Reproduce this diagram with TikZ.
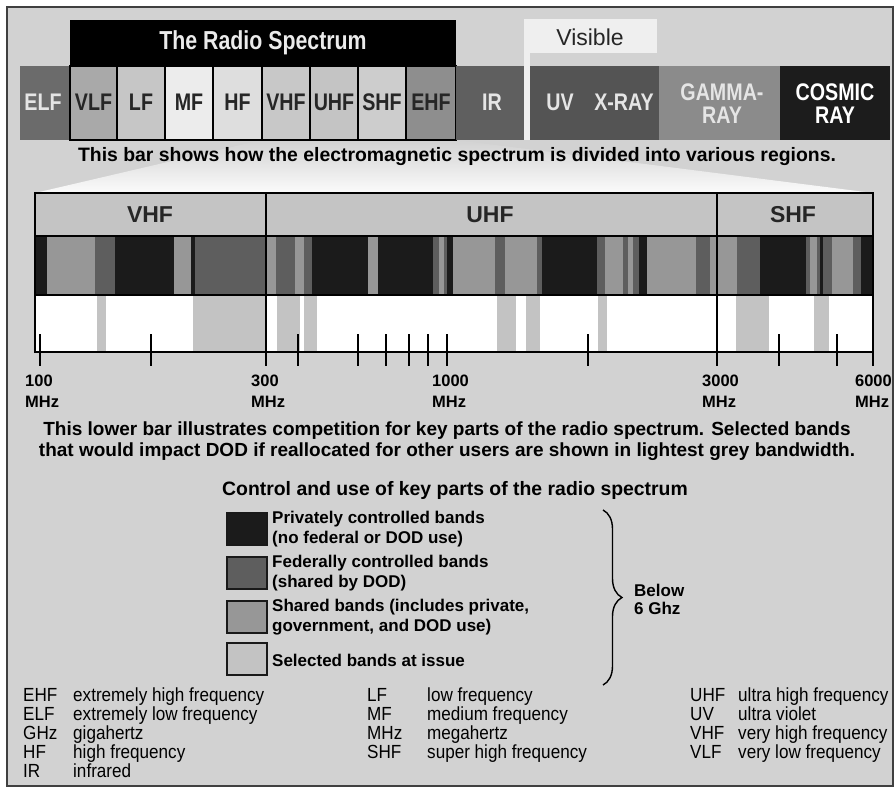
\documentclass[tikz,border=0pt]{standalone}
\usepackage{fontspec}
\setmainfont{Liberation Sans}
\newfontfamily\condfont[FakeStretch=0.82]{Liberation Sans}
\newfontfamily\narrowfont[FakeStretch=0.9]{Liberation Sans}
\usepackage{tikz}
\usetikzlibrary{decorations.pathreplacing}
\definecolor{panelGray}{HTML}{D2D2D2}
\definecolor{privateBlack}{HTML}{1B1B1B}
\definecolor{federalGray}{HTML}{5E5E5E}
\definecolor{sharedGray}{HTML}{979797}
\definecolor{issueGray}{HTML}{C3C3C3}
\definecolor{headerGray}{HTML}{C4C4C4}
\definecolor{elfGray}{HTML}{6B6B6B}
\definecolor{vlfGray}{HTML}{A9A9A9}
\definecolor{lfGray}{HTML}{C6C6C6}
\definecolor{mfGray}{HTML}{ECECEC}
\definecolor{hfGray}{HTML}{DEDEDE}
\definecolor{vhfGray}{HTML}{C8C8C8}
\definecolor{uhfGray}{HTML}{C4C4C4}
\definecolor{shfGray}{HTML}{CDCDCD}
\definecolor{ehfGray}{HTML}{8E8E8E}
\definecolor{irGray}{HTML}{5F5F5F}
\definecolor{uvGray}{HTML}{545454}
\definecolor{gammaGray}{HTML}{8B8B8B}
\definecolor{cosmicBlack}{HTML}{1C1C1C}
\definecolor{visibleWhite}{HTML}{EFEFEF}
\begin{document}
\begin{tikzpicture}[x=1pt,y=-1pt,
  cell/.style={draw=black,line width=1.6pt},
  celltext/.style={font=\condfont\bfseries\fontsize{24}{23}\selectfont,text=black!85,align=center,inner sep=0pt},
  caption/.style={font=\bfseries\fontsize{19.4}{20.5}\selectfont,align=center,inner sep=0pt},
  headtext/.style={font=\bfseries\fontsize{23}{23}\selectfont,text=black!85},
  ticklabel/.style={font=\bfseries\fontsize{16.5}{21}\selectfont,align=left,anchor=north west,inner sep=0pt},
  keybox/.style={draw=black!90,line width=1.5pt},
  keytext/.style={font=\bfseries\fontsize{17}{20}\selectfont,align=left,anchor=west,inner sep=0pt},
  abbr/.style={font=\narrowfont\fontsize{19}{19}\selectfont,anchor=base west,inner sep=0pt}]
\useasboundingbox (0,0) rectangle (894,787);
\fill[white] (0,0) rectangle (894,787);
\fill[panelGray] (7,7) rectangle (893,786);
\draw[black!75,line width=1.5pt] (7,7) rectangle (893,786);
% funnel from the radio part down to the lower bar
\shade[top color=panelGray,bottom color=white!92!panelGray] (262,140) -- (456,140) -- (873,193) -- (35,193) -- cycle;

% top bar
\fill[black] (70,20) rectangle (456,66);
\node[celltext,text=white!92!black,font=\condfont\bfseries\fontsize{26}{26}\selectfont] (radioTitle) at (263,43) {The Radio Spectrum};
\fill[elfGray] (20,66) rectangle (70,140);
\node[celltext,text=white!90!black] (cellELF) at (43,102) {ELF};
\foreach \a/\b/\c/\t in {70/117/vlfGray/VLF,117/165/lfGray/LF,165/213/mfGray/MF,213/262/hfGray/HF,
  262/310/vhfGray/VHF,310/358/uhfGray/UHF,358/406/shfGray/SHF,406/456/ehfGray/EHF}{
  \filldraw[cell,fill=\c] (\a,66) rectangle (\b,140);
  \node[celltext] (cell\t) at ({(\a+\b)/2},102) {\t};
}
\fill[irGray] (456,66) rectangle (524,140);
\node[celltext,text=white!90!black] (cellIR) at (492,102) {IR};
\fill[visibleWhite] (524,19) rectangle (657,53);
\fill[visibleWhite] (524,53) rectangle (530,140);
\node[font=\fontsize{23}{23}\selectfont,text=black!85] (visibleLabel) at (590,37) {Visible};
\fill[uvGray] (530,66) rectangle (659,140);
\node[celltext,text=white!90!black] (cellUV) at (560,102) {UV};
\node[celltext,text=white!90!black] (cellXRAY) at (624,102) {X-RAY};
\fill[gammaGray] (659,66) rectangle (780,140);
\node[celltext,text=white!90!black] (cellGAMMA) at (722,104) {GAMMA-\\RAY};
\fill[cosmicBlack] (780,66) rectangle (890,140);
\node[celltext,text=white] (cellCOSMIC) at (835,104) {COSMIC\\RAY};
\node[caption,anchor=base] (barCaption) at (457,161) {This bar shows how the electromagnetic spectrum is divided into various regions.};

% lower bar
\fill[headerGray] (35,193) rectangle (873,236);
\fill[privateBlack] (35,236) rectangle (873,295);
\fill[white] (35,295) rectangle (873,352);
\foreach \a/\b in {47/95,174/191,266/276,295/304,368/378,439/444,453/495,505/537,605/623,628/633,647/696,710/717,717/737,810/817,832/853}
  \fill[sharedGray] (\a,237) rectangle (\b,294);
\foreach \a/\b in {95/115,195/266,276/295,304/312,433/439,444/447,495/505,537/542,597/605,623/628,633/639,696/710,737/760,806/810,817/820,823/832,853/861}
  \fill[federalGray] (\a,237) rectangle (\b,294);
\foreach \a/\b in {97/106,193/266,277/300,304/317,497/516,526/540,598/607,736/769,814/829}
  \fill[issueGray] (\a,296) rectangle (\b,352);
\draw[line width=1.5pt] (35,236) -- (873,236) (35,295) -- (873,295);
\draw[line width=2pt] (35,193) rectangle (873,352);
\draw[line width=2pt] (266,193) -- (266,352) (717,193) -- (717,352);
\node[headtext] (headVHF) at (150,215) {VHF};
\node[headtext] (headUHF) at (490,215) {UHF};
\node[headtext] (headSHF) at (793,215) {SHF};
\foreach \x in {40,151,266,298,358,386,409,428,447,588,717,779,837,873}
  \draw[line width=1.6pt] (\x,334) -- (\x,366);
\foreach \x/\f in {40/100,266/300,447/1000,717/3000}
  \node[ticklabel] (tick\f) at (\x-15,375) {\f\\MHz};
\node[ticklabel,anchor=north east] (tick6000) at (892,375) {6000\\MHz};
\node[caption,anchor=north,font=\bfseries\fontsize{19}{20.5}\selectfont] (lowerCaption) at (447,422) {This lower bar illustrates competition for key parts of the radio spectrum. Selected bands\\that would impact DOD if reallocated for other users are shown in lightest grey bandwidth.};

% legend
\node[caption,anchor=base] (keyTitle) at (455,495) {Control and use of key parts of the radio spectrum};
\foreach \y/\c in {513/privateBlack,557/federalGray,601/sharedGray,643/issueGray}
  \filldraw[keybox,fill=\c] (227,\y) rectangle (267,\y+32);
\node[keytext] (keyPrivate) at (272,529) {Privately controlled bands\\(no federal or DOD use)};
\node[keytext] (keyFederal) at (272,573) {Federally controlled bands\\(shared by DOD)};
\node[keytext] (keyShared) at (272,617) {Shared bands (includes private,\\government, and DOD use)};
\node[keytext] (keyIssue) at (272,660) {Selected bands at issue};
\coordinate (braceTop) at (603,510);
\coordinate (braceBot) at (603,685);
\draw[decorate,decoration={brace,amplitude=19pt},line width=1.4pt] (braceTop) -- (braceBot);
\node[keytext,font=\bfseries\fontsize{17}{18}\selectfont] (belowSix) at (634,599) {Below\\6 Ghz};

% abbreviations
\foreach \ab/\txt [count=\i from 0] in {EHF/extremely high frequency,ELF/extremely low frequency,GHz/gigahertz,HF/high frequency,IR/infrared}{
  \node[abbr] (abbr\ab) at (23,701+19*\i) {\ab};
  \node[abbr] (text\ab) at (73,701+19*\i) {\txt};
}
\foreach \ab/\txt [count=\i from 0] in {LF/low frequency,MF/medium frequency,MHz/megahertz,SHF/super high frequency}{
  \node[abbr] (abbr\ab) at (367,701+19*\i) {\ab};
  \node[abbr] (text\ab) at (427,701+19*\i) {\txt};
}
\foreach \ab/\txt [count=\i from 0] in {UHF/ultra high frequency,UV/ultra violet,VHF/very high frequency,VLF/very low frequency}{
  \node[abbr] (abbr\ab) at (690,701+19*\i) {\ab};
  \node[abbr] (text\ab) at (738,701+19*\i) {\txt};
}
\end{tikzpicture}
\end{document}
